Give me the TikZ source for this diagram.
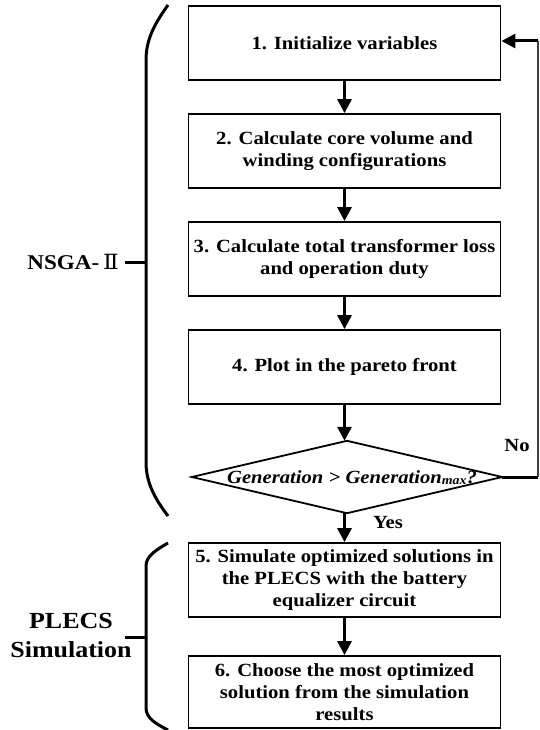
\documentclass[tikz,border=0pt]{standalone}
\usepackage{fontspec}
\usepackage{graphicx}
\setmainfont{Liberation Serif}
\newfontfamily\romfont{DejaVu Serif}
\usetikzlibrary{arrows.meta}
\newcommand{\hs}[1]{\scalebox{1.11}[1]{#1}}
\begin{document}
\begin{tikzpicture}[x=1pt,y=-1pt,
  box/.style={draw,line width=1.8pt,minimum width=312pt,minimum height=74pt,align=center,inner sep=0pt,
    font=\fontsize{18.6}{22}\selectfont\bfseries},
  arr/.style={line width=3pt,-{Triangle[length=14pt,width=14pt]}},
  brace/.style={line width=3pt},
  lbl/.style={font=\fontsize{18.6}{22}\selectfont\bfseries,inner sep=0pt},
  side/.style={align=center,inner sep=0pt},
]
\useasboundingbox (0,0) rectangle (539,730);

\node[box] (b1) at (344.5,43) {\hs{1. Initialize variables}};
\node[box] (b2) at (344.5,151) {\hs{2. Calculate core volume and}\\\hs{winding configurations}};
\node[box] (b3) at (344.5,259) {\hs{3. Calculate total transformer loss}\\\hs{and operation duty}};
\node[box] (b4) at (344.5,367) {\hs{4. Plot in the pareto front}};

\node[minimum width=310pt,minimum height=72pt,inner sep=0pt] (d) at (347,477) {};
\draw[line width=1.8pt,line join=miter] (d.west) -- (d.north) -- (d.east) -- (d.south) -- cycle;
\node[inner sep=0pt] (dt) at (352,478) {\hs{\fontsize{18.6}{22}\selectfont\bfseries\itshape Generation > Generation\raisebox{-1pt}{\fontsize{12.5}{12}\selectfont max}?}};

\node[box,minimum height=74pt] (b5) at (344.5,580) {\fontsize{18.6}{20}\selectfont\hs{5. Simulate optimized solutions in}\\\hs{the PLECS with the battery}\\\hs{equalizer circuit}};
\node[box,minimum height=72pt] (b6) at (344.5,692) {\fontsize{18.6}{20}\selectfont\hs{6. Choose the most optimized}\\\hs{solution from the simulation}\\\hs{results}};

\draw[arr] (b1) -- (b2);
\draw[arr] (b2) -- (b3);
\draw[arr] (b3) -- (b4);
\draw[arr] (b4.south) -- (b4.south |- d.north);
\draw[arr] (d.south -| b5.north) -- (b5.north);
\draw[arr] (b5) -- (b6);

\coordinate (f1) at (538,477);
\coordinate (f2) at (538,41);
\draw[line width=3pt] (d.east) -- (f1);
\draw[line width=1.3pt,black!75] (f1) -- (f2);
\draw[arr] (f2) -- (b1.east |- f2);

\node[lbl] (no) at (517,445) {\hs{No}};
\node[lbl] (yes) at (388,522) {\hs{Yes}};

% braces
\draw[brace] (168,5) .. controls (156,22) and (146,38) .. (146,60) -- (146,462) .. controls (146,484) and (156,500) .. (168,516);
\coordinate (t1) at (146,262);
\coordinate (t1e) at (125,262);
\draw[brace] (t1) -- (t1e);
\node[side,anchor=east,font=\fontsize{21}{24}\selectfont\bfseries] (nsga) at (119,262) {\scalebox{1.1}[1]{NSGA-\,{\romfont\mdseries Ⅱ}}};

\draw[brace] (168,543) .. controls (156,550) and (146,556) .. (146,566) -- (146,708) .. controls (146,718) and (156,724) .. (168,730);
\coordinate (t2) at (146,637);
\coordinate (t2e) at (125,637);
\draw[brace] (t2) -- (t2e);
\node[side,font=\fontsize{23}{29}\selectfont\bfseries] (plecs) at (71,636) {\scalebox{1.13}[1]{PLECS}\\\scalebox{1.13}[1]{Simulation}};
\end{tikzpicture}
\end{document}
